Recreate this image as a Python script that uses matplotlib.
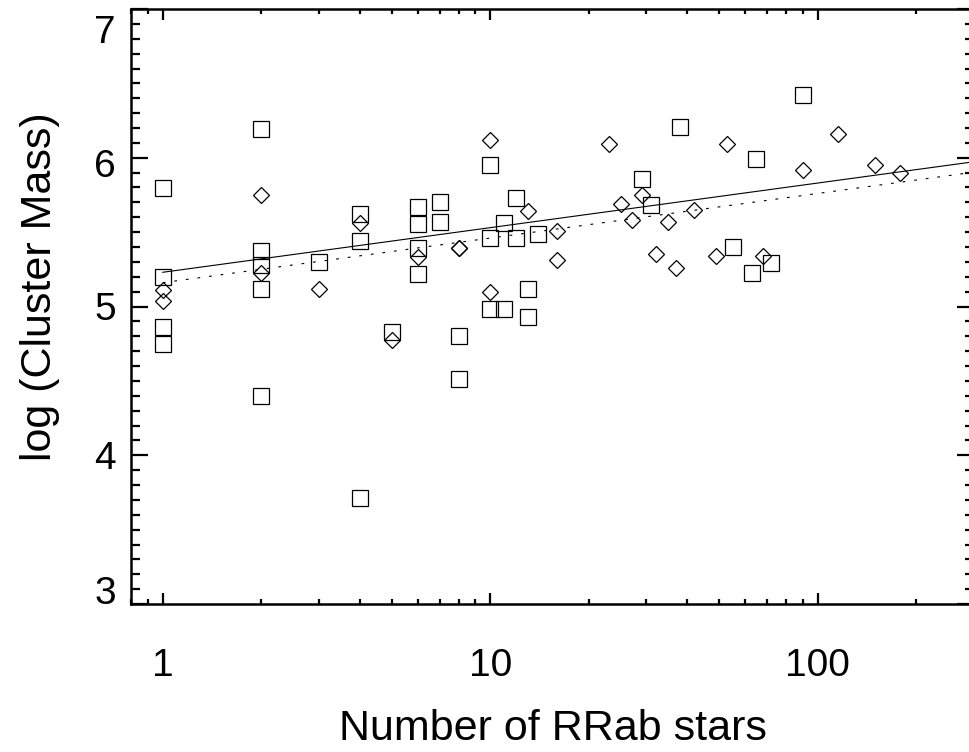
import matplotlib
matplotlib.use("Agg")
import numpy as np
import matplotlib.pyplot as plt
import matplotlib.transforms as mtransforms
from matplotlib.ticker import FixedLocator, LogLocator, MultipleLocator, NullFormatter

plt.rcParams['font.family'] = ['Liberation Sans', 'DejaVu Sans']

# squares
sq_n = [1, 1, 1, 1, 2, 2, 2, 2, 2, 3, 4, 4, 4, 5, 6, 6, 6, 6, 7, 7, 8, 8,
        10, 10, 10, 11, 11, 12, 12, 13, 13, 14, 29, 31, 38, 55, 63, 65, 72, 90]
sq_logm = [5.80, 5.20, 4.86, 4.75, 6.19, 5.37, 5.28, 5.12, 4.40, 5.30,
           5.62, 5.44, 3.71, 4.83, 5.67, 5.555, 5.39, 5.22, 5.70, 5.57,
           4.80, 4.51, 5.95, 5.46, 4.98, 5.56, 4.98, 5.73, 5.46, 5.12,
           4.93, 5.49, 5.86, 5.68, 6.21, 5.40, 5.225, 5.99, 5.29, 6.42]

# diamonds
di_n = [1, 1, 2, 2, 3, 4, 5, 6, 8, 8, 10, 10, 13, 16, 16, 23, 25, 27, 29,
        32, 35, 37, 42, 49, 53, 68, 90, 115, 150, 178]
di_logm = [5.11, 5.04, 5.75, 5.225, 5.12, 5.56, 4.775, 5.33, 5.39, 5.39,
           6.12, 5.10, 5.64, 5.51, 5.31, 6.09, 5.69, 5.58, 5.75, 5.35,
           5.57, 5.26, 5.65, 5.34, 6.09, 5.34, 5.92, 6.16, 5.95, 5.90]

# linear fits in log N: logM = a + b*log10(N)
fit_x = [1, 300]
fit_solid = (5.23, 0.30)
fit_dotted = (5.16, 0.30)

yticks = [3, 4, 5, 6, 7]
ytick_shift = [-14, 0, 0, 5, 20]   # label nudges seen in the original, px down

fig = plt.figure(figsize=(9.69, 7.52), dpi=100)
ax = fig.add_axes([131 / 969, 1 - 604 / 752, (974 - 131) / 969, (604 - 9) / 752])

ax.plot(sq_n, sq_logm, 's', mfc='none', mec='black', ms=11.5, mew=0.9)
ax.plot(di_n, di_logm, 'D', mfc='none', mec='black', ms=8.5, mew=0.9)

fx = np.array(fit_x, dtype=float)
ax.plot(fx, fit_solid[0] + fit_solid[1] * np.log10(fx), '-', color='black', lw=0.8)
ax.plot(fx, fit_dotted[0] + fit_dotted[1] * np.log10(fx), color='black', lw=0.8,
        dashes=(2.5, 8))

ax.set_xscale('log')
ax.set_xlim(0.8, 300)
ax.set_ylim(3, 7)
ax.xaxis.set_major_locator(FixedLocator([1, 10, 100]))
ax.set_xticklabels(['1', '10', '100'])
ax.xaxis.set_minor_locator(LogLocator(subs=range(2, 10)))
ax.xaxis.set_minor_formatter(NullFormatter())
ax.yaxis.set_major_locator(FixedLocator(yticks))
ax.yaxis.set_minor_locator(MultipleLocator(0.1))

for s in ax.spines.values():
    s.set_linewidth(1.8)

ax.tick_params(axis='y', which='major', direction='in', length=12.2, width=1.6,
               left=True, right=True, labelsize=28, pad=11)
ax.tick_params(axis='y', which='minor', direction='in', length=6.5, width=1.6,
               left=True, right=True)
ax.tick_params(axis='x', which='major', direction='in', length=8, width=1.6,
               top=True, bottom=True, labelsize=28, pad=32)
ax.tick_params(axis='x', which='minor', direction='in', length=3.6, width=1.6,
               top=True, bottom=True)

for tick, dy in zip(ax.yaxis.get_major_ticks(len(yticks)), ytick_shift):
    off = mtransforms.ScaledTranslation(0, -dy / 100, fig.dpi_scale_trans)
    tick.label1.set_transform(tick.label1.get_transform() + off)

ax.set_xlabel('Number of RRab stars', fontsize=31, va='center')
ax.xaxis.set_label_coords(0.5, (604 - 729) / 595)
ax.set_ylabel('log (Cluster Mass)', fontsize=31, va='center')
ax.yaxis.set_label_coords((40 - 131) / 843, 0.534)

fig.savefig('out.png', dpi=100)
